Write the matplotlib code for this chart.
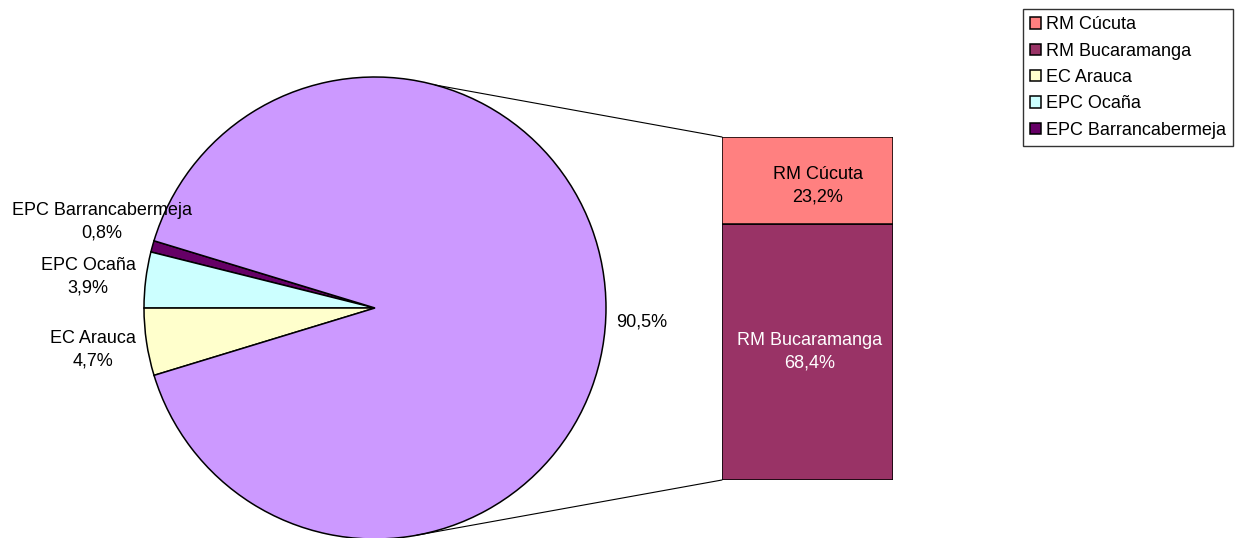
import matplotlib
matplotlib.use("Agg")
import matplotlib.pyplot as plt
from matplotlib.patches import ConnectionPatch
import numpy as np

plt.rcParams['font.family'] = ['Liberation Sans', 'DejaVu Sans']

# ---- data ----
pie_labels = ["EPC Barrancabermeja", "EPC Ocaña", "EC Arauca", "Otros"]
pie_values = [0.8, 3.9, 4.7, 90.5]
pie_colors = ["#660066", "#CCFFFF", "#FFFFCC", "#CC99FF"]

bar_labels = ["RM Bucaramanga", "RM Cúcuta"]
bar_values = [68.4, 23.2]
bar_colors = ["#993366", "#FF8080"]

legend_order = ["RM Cúcuta", "RM Bucaramanga", "EC Arauca", "EPC Ocaña", "EPC Barrancabermeja"]

W, H = 1241, 538
DPI = 100
FS = 13

fig = plt.figure(figsize=(W / DPI, H / DPI), dpi=DPI)
fig.patch.set_facecolor("white")

def px_axes(x0, y0_img, w, h):
    """axes from pixel box given in image coordinates (top-left origin)"""
    return fig.add_axes([x0 / W, 1 - (y0_img + h) / H, w / W, h / H])

# ---- pie ----
cx, cy, r = 375, 308, 231
ax_pie = px_axes(cx - r, cy - r, 2 * r, 2 * r)
start = 180 - 3.6 * (pie_values[0] + pie_values[1])
wedges, _ = ax_pie.pie(pie_values, colors=pie_colors, startangle=start,
                       counterclock=True, radius=1.0,
                       wedgeprops=dict(edgecolor="black", linewidth=1.1))
ax_pie.set_xlim(-1, 1)
ax_pie.set_ylim(-1, 1)
ax_pie.set_aspect("equal")
ax_pie.axis("off")

# ---- bar ----
bx0, by0, bw, bh = 722, 137, 171, 343
ax_bar = px_axes(bx0, by0, bw, bh)
total = sum(bar_values)
bottom = 0
bars = []
for lab, v, c in zip(bar_labels, bar_values, bar_colors):
    b = ax_bar.bar(0, v, width=1.0, bottom=bottom, color=c,
                   edgecolor="black", linewidth=1.1, label=lab)
    bars.append(b[0])
    bottom += v
ax_bar.set_xlim(-0.5, 0.5)
ax_bar.set_ylim(0, total)
ax_bar.axis("off")

# ---- connector lines ----
for ang, ybar in [(74.9, total), (-79.6, 0)]:
    t = np.deg2rad(ang)
    con = ConnectionPatch(xyA=(np.cos(t), np.sin(t)), coordsA=ax_pie.transData,
                          xyB=(-0.5, ybar), coordsB=ax_bar.transData,
                          color="black", linewidth=0.8)
    fig.add_artist(con)

# ---- text overlay ----
ov = fig.add_axes([0, 0, 1, 1], zorder=5)
ov.set_xlim(0, W)
ov.set_ylim(H, 0)
ov.axis("off")
ov.patch.set_alpha(0)

def fmt(v):
    return f"{v:.1f}".replace(".", ",") + "%"

LS = 1.45
label_pos = {"EPC Barrancabermeja": (102, 222), "EPC Ocaña": (88, 277), "EC Arauca": (93, 350)}
for lab, v in zip(pie_labels, pie_values):
    if lab in label_pos:
        x, y = label_pos[lab]
        ov.text(x, y, f"{lab}\n{fmt(v)}", ha="center", va="center",
                multialignment="center", fontsize=FS, linespacing=LS)
ov.text(642, 322, fmt(pie_values[3]), ha="center", va="center", fontsize=FS)

bar_text_pos = {"RM Cúcuta": ((818, 186), "black"), "RM Bucaramanga": ((810, 352), "white")}
for lab, v in zip(bar_labels, bar_values):
    (x, y), col = bar_text_pos[lab]
    ov.text(x, y, f"{lab}\n{fmt(v)}", ha="center", va="center",
            multialignment="center", fontsize=FS, color=col, linespacing=LS)

# ---- legend ----
handle_map = {"RM Cúcuta": bars[1], "RM Bucaramanga": bars[0],
              "EC Arauca": wedges[2], "EPC Ocaña": wedges[1],
              "EPC Barrancabermeja": wedges[0]}
leg = fig.legend([handle_map[l] for l in legend_order], legend_order,
                 loc="upper left", bbox_to_anchor=(1023 / W, 1 - 9 / H),
                 fontsize=FS, frameon=True, fancybox=False, framealpha=1,
                 edgecolor="#333333", borderaxespad=0, borderpad=0.4,
                 labelspacing=0.52, handlelength=0.6, handleheight=0.6,
                 handletextpad=0.25)
leg.get_frame().set_linewidth(1.0)

fig.savefig("out.png", dpi=DPI, facecolor="white")
